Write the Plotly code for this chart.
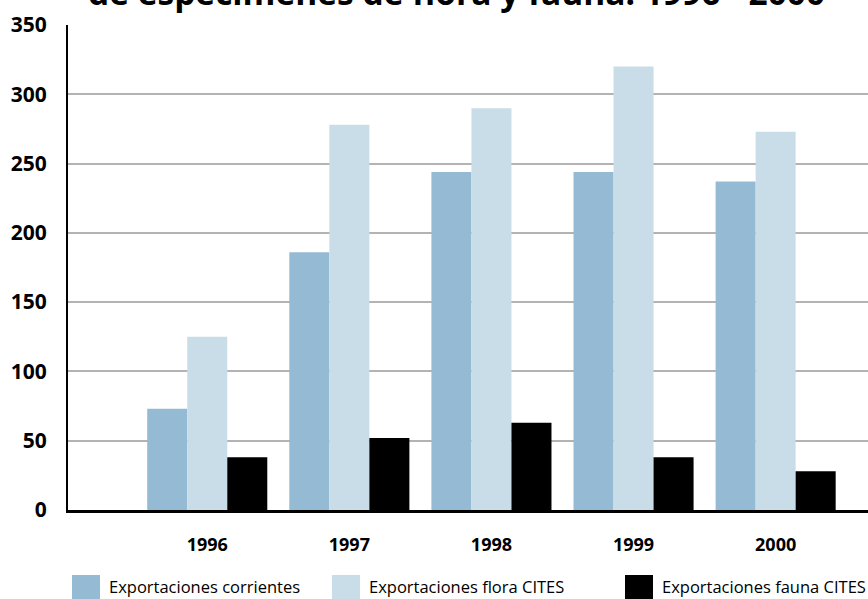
import plotly.graph_objects as go

# Años y series (miles de especímenes)
years = ["1996", "1997", "1998", "1999", "2000"]
corrientes = [73, 186, 244, 244, 237]
flora_cites = [125, 278, 290, 320, 273]
fauna_cites = [38, 52, 63, 38, 28]

series = [
    ("Exportaciones corrientes", corrientes, "#95bad3"),
    ("Exportaciones flora CITES", flora_cites, "#c9dde8"),
    ("Exportaciones fauna CITES", fauna_cites, "#000000"),
]

fig = go.Figure()
for name, vals, color in series:
    fig.add_trace(go.Bar(
        x=years, y=vals, name=name,
        marker=dict(color=color, line=dict(width=0)),
    ))

# leyenda dibujada a mano: posiciones (en px) de cada cuadro
legend_px = [72, 332, 625]
W, H, L, T, B = 868, 599, 68, 25, 89
plot_w, plot_h = W - L, H - T - B

def px_x(p):
    return (p - L) / plot_w

def px_y(p):
    return (H - B - p) / plot_h

shapes = []
annotations = []
for (name, vals, color), p in zip(series, legend_px):
    shapes.append(dict(
        type="rect", xref="paper", yref="paper",
        x0=px_x(p), x1=px_x(p + 28), y0=px_y(575), y1=px_y(602),
        fillcolor=color, line=dict(width=0),
    ))
    annotations.append(dict(
        text=name, xref="paper", yref="paper",
        x=px_x(p + 36), y=px_y(599), xanchor="left", yanchor="bottom",
        showarrow=False, borderpad=0,
        font=dict(size=16.5, family="Open Sans"),
    ))

annotations.append(dict(
    text="de especímenes de flora y fauna: 1996 - 2000",
    xref="paper", yref="paper", x=px_x(456), y=px_y(17),
    xanchor="center", yanchor="bottom",
    showarrow=False, font=dict(size=33.5, family="Open Sans", weight="bold"),
))

fig.update_layout(
    width=W, height=H,
    barmode="group", bargap=0.155, bargroupgap=0,
    plot_bgcolor="white", paper_bgcolor="white",
    font=dict(family="Open Sans", color="black"),
    margin=dict(l=L, r=0, t=T, b=B, autoexpand=False),
    showlegend=False,
    xaxis=dict(
        type="category", range=[-0.98, 4.65],
        showline=True, linecolor="black", linewidth=3,
        tickfont=dict(size=18, family="Open Sans", weight="bold"),
        ticks="", ticklabelstandoff=16,
    ),
    yaxis=dict(
        range=[0, 350], dtick=50,
        showline=True, linecolor="black", linewidth=2,
        showgrid=True, gridcolor="#b3b3b3", gridwidth=2,
        tickfont=dict(size=21, family="Open Sans", weight="bold"),
        ticks="", ticklabelstandoff=15, zeroline=False,
    ),
    shapes=shapes,
    annotations=annotations,
)

fig.write_html("out.html", config={"displayModeBar": False},
               post_script="document.body.style.margin='0';")
